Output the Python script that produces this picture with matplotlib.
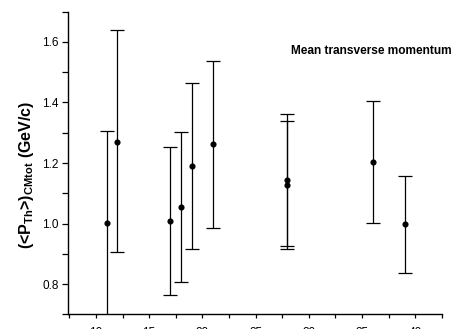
import matplotlib
matplotlib.use("Agg")
import matplotlib.pyplot as plt
from matplotlib.ticker import MultipleLocator

plt.rcParams['font.family'] = ['Liberation Sans', 'DejaVu Sans']
plt.rcParams['mathtext.fontset'] = 'custom'
plt.rcParams['mathtext.rm'] = 'Liberation Sans:bold'
plt.rcParams['mathtext.bf'] = 'Liberation Sans:bold'

# mean transverse momentum points (value, upper end, lower end of error bar)
x_vals = [11, 12, 17, 18, 19, 21, 28, 28, 36, 39]
pt_mean = [1.003, 1.270, 1.007, 1.054, 1.191, 1.262, 1.145, 1.128, 1.203, 0.997]
pt_high = [1.305, 1.638, 1.253, 1.303, 1.466, 1.538, 1.362, 1.339, 1.404, 1.157]
pt_low = [0.690, 0.905, 0.764, 0.807, 0.915, 0.984, 0.927, 0.915, 1.001, 0.837]

x_ticks = [10, 15, 20, 25, 30, 35, 40]
y_ticks = [0.8, 1.0, 1.2, 1.4, 1.6]

err_lo = [m - l for m, l in zip(pt_mean, pt_low)]
err_hi = [h - m for m, h in zip(pt_mean, pt_high)]

fig = plt.figure(figsize=(4.54, 3.29), dpi=100)
ax = fig.add_axes([0.1504, 0.0447, 0.8226, 0.9197])

ax.errorbar(x_vals, pt_mean, yerr=[err_lo, err_hi], fmt='o', color='black',
            markersize=3.4, elinewidth=0.9, capsize=4.8, capthick=0.9)

ax.set_xlim(7.4, 42.5)
ax.set_ylim(0.7, 1.7)
ax.set_xticks(x_ticks)
ax.set_yticks(y_ticks)
ax.set_yticklabels(['%.1f' % v for v in y_ticks])
ax.xaxis.set_minor_locator(MultipleLocator(2.5))
ax.yaxis.set_minor_locator(MultipleLocator(0.1))

ax.spines['top'].set_visible(False)
ax.spines['right'].set_visible(False)
ax.spines['left'].set_linewidth(1.0)
ax.spines['bottom'].set_linewidth(1.0)

ax.tick_params(axis='y', which='both', direction='out', length=4.5, width=0.9,
               labelsize=8.5, pad=2.5)
ax.tick_params(axis='x', which='both', direction='out', length=3, width=0.9,
               labelsize=8.5, pad=6.5)

ax.set_ylabel(r'(<P$_{\mathrm{Th}}$>)$_{\mathrm{CMtot}}$ (GeV/c)',
              fontsize=11.5, fontweight='bold')
ax.yaxis.set_label_coords(-0.087, 0.46)

fig.text(0.9956, 0.846, 'Mean transverse momentum', ha='right', va='center',
         fontsize=8.6, fontweight='bold')

fig.savefig('out.png', dpi=100)
